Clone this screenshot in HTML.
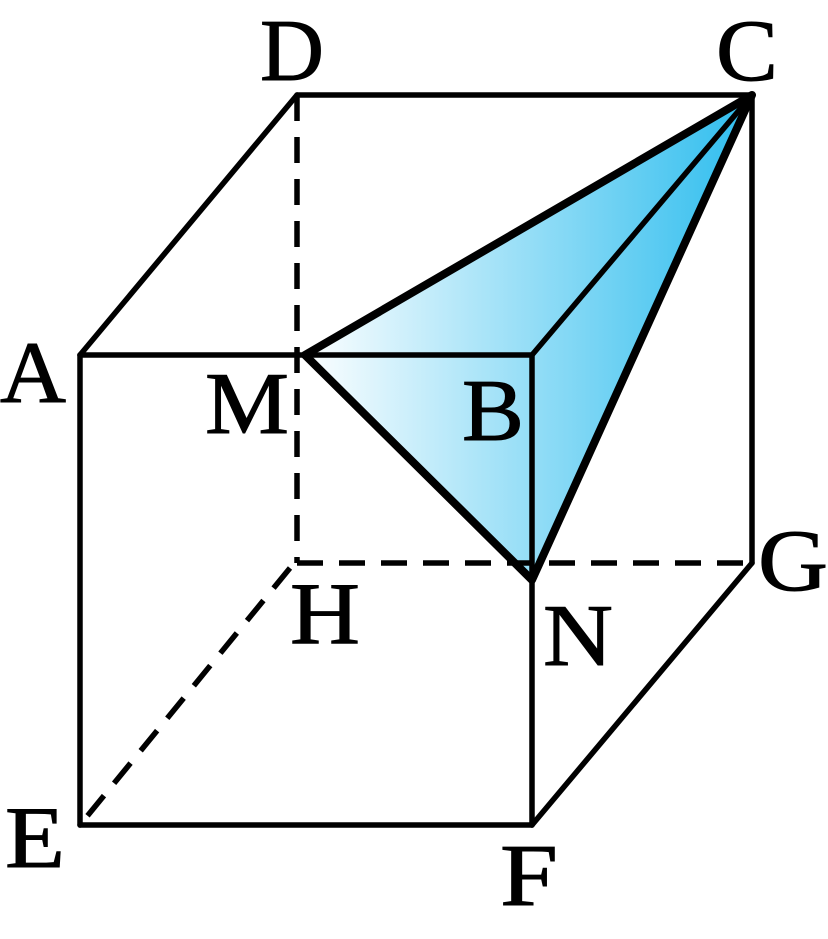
<!DOCTYPE html>
<html><head><style>html,body{margin:0;padding:0;background:#fff}</style></head>
<body>
<svg width="828" height="934" viewBox="0 0 828 934" xmlns="http://www.w3.org/2000/svg">
<defs>
<linearGradient id="g" x1="300" y1="0" x2="752" y2="0" gradientUnits="userSpaceOnUse">
<stop offset="0" stop-color="#ffffff"/>
<stop offset="1" stop-color="#2ebdee"/>
</linearGradient>
</defs>
<polygon points="300,355 752,95 532,580" fill="url(#g)"/>
<g stroke="#000" stroke-width="5.5" fill="none" stroke-linecap="round">
<line x1="297" y1="95" x2="752" y2="95"/>
<line x1="297" y1="95" x2="80" y2="355"/>
<line x1="752" y1="95" x2="752" y2="563"/>
<line x1="80" y1="355" x2="532" y2="355"/>
<line x1="80" y1="355" x2="80" y2="825"/>
<line x1="80" y1="825" x2="532" y2="825"/>
<line x1="532" y1="355" x2="532" y2="825"/>
<line x1="532" y1="825" x2="752" y2="563"/>
<line x1="532" y1="355" x2="752" y2="95"/>
</g>
<g stroke="#000" stroke-width="5.5" fill="none" stroke-dasharray="26,16">
<line x1="297" y1="95" x2="297" y2="563"/>
<line x1="297" y1="563" x2="752" y2="563"/>
<line x1="290" y1="568" x2="80" y2="825"/>
</g>
<g stroke="#000" stroke-width="8" fill="none" stroke-linejoin="round" stroke-linecap="round">
<polygon points="305,355 752,95 532,580"/>
</g>
<g font-family="Liberation Serif, serif" font-size="88" fill="#000" stroke="#000" stroke-width="1">
<text x="260" y="80" textLength="64" lengthAdjust="spacingAndGlyphs">D</text>
<text x="716" y="80" textLength="62" lengthAdjust="spacingAndGlyphs">C</text>
<text x="0" y="402" textLength="66" lengthAdjust="spacingAndGlyphs">A</text>
<text x="205" y="433" textLength="84" lengthAdjust="spacingAndGlyphs">M</text>
<text x="462" y="440" textLength="62" lengthAdjust="spacingAndGlyphs">B</text>
<text x="290" y="643" textLength="70" lengthAdjust="spacingAndGlyphs">H</text>
<text x="758" y="590" textLength="70" lengthAdjust="spacingAndGlyphs">G</text>
<text x="543" y="665" textLength="70" lengthAdjust="spacingAndGlyphs">N</text>
<text x="5" y="867" textLength="60" lengthAdjust="spacingAndGlyphs">E</text>
<text x="500" y="905" textLength="58" lengthAdjust="spacingAndGlyphs">F</text>
</g>
</svg>
</body></html>
